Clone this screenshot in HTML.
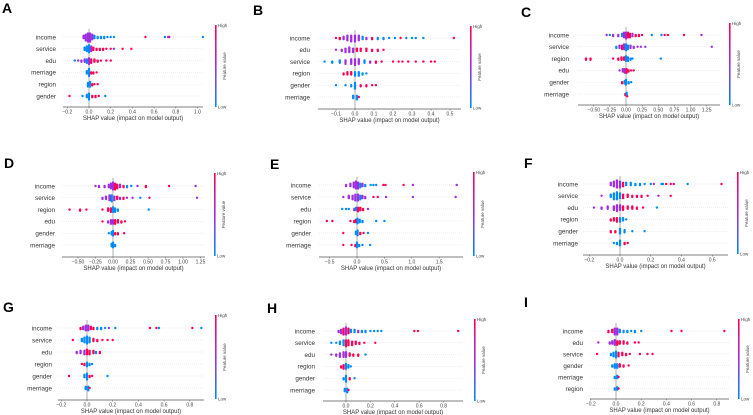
<!DOCTYPE html>
<html><head><meta charset="utf-8"><style>
html,body{margin:0;padding:0;background:#fff;}
svg{display:block;font-family:"Liberation Sans","DejaVu Sans",sans-serif;}
</style></head><body>
<svg id="fig" width="753" height="415" viewBox="0 0 753 415" xmlns="http://www.w3.org/2000/svg">
<defs>
<linearGradient id="cb" x1="0" y1="1" x2="0" y2="0">
<stop offset="0" stop-color="#008bfb"/><stop offset="0.5" stop-color="#a02ee0"/><stop offset="1" stop-color="#ff0052"/>
</linearGradient>
</defs>
</svg>
<script>
// ---- data (feature order, tick values, points as [shap, featureLevel(h/p/l), count]) ----
const featuresA=["income","service","edu","merriage","region","gender"];
const ticksA=[-0.2,0,0.2,0.4,0.6,0.8,1.0];
const pointsA=[
"-0.05 p 3|-0.03 p 6|-0.01 p 8|0.01 p 8|0.03 p 5|0.05 l 3|0.08 l 2|0.11 l 2|0.14 l 2|0.17 l 1|0.2 l 1|0.23 l 1|0.52 h 1|0.7 l 1|0.73 h 1|0.74 p 1|1.05 l 1",
"-0.04 l 3|-0.02 l 5|0 l 7|0.02 p 5|0.04 h 3|0.07 h 2|0.1 h 2|0.13 h 2|0.16 h 1|0.2 h 1|0.23 p 1|0.31 h 1|0.39 h 1",
"-0.13 l 1|-0.1 p 1|-0.07 p 2|-0.04 p 3|-0.02 l 4|0 p 6|0.02 h 4|0.05 h 3|0.08 h 2|0.11 h 1|0.16 h 1|0.2 h 1",
"-0.02 l 3|0 l 7|0.02 h 2|0.04 h 2|0.07 h 1",
"-0.01 l 4|0.01 l 5|0.03 h 2|0.05 h 1|0.08 h 1",
"-0.18 h 1|-0.06 l 1|-0.02 l 3|0 l 6|0.03 h 2|0.06 h 2|0.09 h 1|0.15 l 1"];
const featuresB=["income","edu","service","region","gender","merriage"];
const ticksB=[-0.1,0,0.1,0.2,0.3,0.4,0.5];
const pointsB=[
"-0.1 h 1|-0.08 h 2|-0.06 p 3|-0.04 p 5|-0.02 p 6|0 p 6|0.02 p 5|0.04 l 3|0.06 p 2|0.09 h 2|0.12 l 2|0.15 l 2|0.18 l 1|0.21 l 1|0.24 h 1|0.27 l 1|0.3 l 1|0.32 l 1|0.36 l 1|0.52 h 1",
"-0.1 p 1|-0.07 p 2|-0.05 p 4|-0.03 p 5|-0.01 p 4|0.01 h 3|0.03 h 3|0.06 h 3|0.09 h 2|0.12 h 2|0.15 h 1",
"-0.16 l 1|-0.12 l 2|-0.08 l 3|-0.05 p 4|-0.02 p 5|0 p 6|0.02 p 5|0.05 l 3|0.08 p 2|0.11 h 2|0.14 h 1|0.2 h 1|0.23 h 1|0.25 h 1|0.28 h 1|0.32 h 1|0.36 h 1|0.4 h 1|0.42 h 1",
"-0.06 h 2|-0.04 h 3|-0.02 h 3|0 l 4|0.02 l 4|0.04 l 2|0.06 l 1",
"-0.1 l 1|-0.05 l 1|-0.02 l 2|0 l 6|0.03 h 2|0.06 h 2|0.09 h 1|0.11 h 1",
"-0.01 l 3|0.01 l 4|0.02 h 1"];
const featuresC=["income","service","region","edu","gender","merriage"];
const ticksC=[-0.5,-0.25,0,0.25,0.5,0.75,1.0,1.25];
const pointsC=[
"-0.3 p 1|-0.25 l 1|-0.2 p 2|-0.12 p 2|-0.06 l 3|-0.03 p 5|0 p 6|0.03 h 5|0.06 h 4|0.1 p 3|0.15 h 2|0.2 h 2|0.25 h 1|0.4 l 1|0.55 l 1|0.6 h 1|0.65 h 1|0.9 h 1|1.17 p 1",
"-0.15 l 2|-0.1 p 3|-0.06 h 4|-0.03 p 5|0 l 6|0.03 l 4|0.07 p 3|0.12 p 2|0.18 p 1|0.23 p 1|0.3 p 1|1.33 p 1",
"-0.62 h 2|-0.55 h 2|-0.2 h 1|-0.12 h 2|-0.07 h 3|-0.03 h 3|0 l 5|0.03 l 4|0.07 l 2|0.1 l 1|0.54 l 1",
"-0.1 p 1|-0.05 p 3|-0.02 p 4|0.01 h 4|0.04 h 2|0.08 h 1|0.12 h 1",
"-0.06 h 2|-0.02 l 3|0 l 5|0.04 l 2|0.08 l 1",
"-0.01 h 2|0.01 l 3|0.02 h 1"];
const featuresD=["income","service","region","edu","gender","merriage"];
const ticksD=[-0.5,-0.25,0,0.25,0.5,0.75,1.0,1.25];
const pointsD=[
"-0.25 p 1|-0.2 p 2|-0.12 p 2|-0.06 p 3|-0.03 p 5|0 p 7|0.03 h 6|0.06 h 4|0.1 p 3|0.15 h 2|0.2 l 2|0.26 l 1|0.35 p 1|0.47 h 2|0.8 h 1|1.18 p 1",
"-0.15 p 2|-0.1 p 3|-0.05 p 5|-0.02 l 6|0.02 p 4|0.06 h 3|0.1 p 2|0.15 h 2|0.2 p 1|0.28 p 1|0.39 l 1|0.52 h 1|1.2 p 1",
"-0.62 h 1|-0.47 h 2|-0.38 h 1|-0.15 h 1|-0.07 h 3|-0.03 h 4|0 l 5|0.03 l 4|0.07 l 2|0.51 l 1",
"-0.15 h 1|-0.07 p 2|-0.03 p 4|0 p 4|0.03 h 4|0.07 h 3|0.12 h 2|0.17 h 1",
"-0.06 l 1|-0.02 l 3|0 l 5|0.03 h 2|0.07 h 2|0.16 h 1",
"-0.02 l 3|0 l 5|0.03 l 2"];
const featuresE=["income","service","edu","region","gender","merriage"];
const ticksE=[-0.5,0,0.5,1.0,1.5];
const pointsE=[
"-0.2 p 2|-0.12 p 3|-0.06 p 5|-0.02 p 7|0.02 p 6|0.06 l 4|0.1 p 3|0.15 l 2|0.25 l 1|0.3 l 1|0.35 l 1|0.48 h 1|0.52 h 1|0.85 h 1|1.02 p 1|1.82 p 1",
"-0.25 p 1|-0.15 p 3|-0.08 p 4|-0.03 p 6|0.02 p 6|0.06 l 4|0.1 p 3|0.15 p 2|0.3 h 1|0.38 h 1|0.53 p 1|1.02 p 1|1.8 p 1",
"-0.27 l 1|-0.2 l 1|-0.15 l 1|-0.05 p 2|-0.02 l 3|0.02 h 4|0.06 h 3|0.11 h 2|0.2 p 1",
"-0.55 h 1|-0.45 h 1|-0.12 h 1|-0.05 h 2|-0.02 h 3|0.01 l 5|0.05 l 3|0.1 l 2|0.35 l 1|0.5 l 1",
"-0.25 h 1|-0.02 l 3|0.01 l 5|0.06 h 2|0.12 h 1|0.2 l 1",
"-0.25 h 1|-0.1 h 1|-0.03 h 2|0 l 5|0.04 l 2|0.1 l 1|0.24 l 1"];
const featuresF=["income","service","edu","region","gender","merriage"];
const ticksF=[-0.2,0,0.2,0.4,0.6];
const pointsF=[
"-0.06 p 3|-0.04 p 5|-0.02 p 7|0 p 6|0.02 h 4|0.04 l 3|0.07 l 3|0.1 l 2|0.13 l 2|0.16 l 1|0.2 l 1|0.22 p 1|0.27 l 1|0.28 l 1|0.3 h 1|0.33 h 1|0.35 h 1|0.44 l 1|0.66 h 1",
"-0.12 p 1|-0.06 l 3|-0.04 l 6|-0.02 l 7|0 l 5|0.02 h 4|0.05 h 3|0.08 h 2|0.11 h 2|0.14 h 2|0.18 h 1|0.25 p 1|0.33 h 1",
"-0.17 p 1|-0.12 p 2|-0.08 p 3|-0.04 p 4|-0.02 p 6|0 p 5|0.02 h 4|0.05 h 3|0.08 h 3|0.11 h 2|0.15 h 1|0.24 l 1",
"-0.06 h 2|-0.04 h 3|-0.02 h 4|0 l 4|0.02 l 3|0.04 l 1",
"-0.06 h 2|-0.03 h 2|0 l 5|0.03 l 3|0.08 l 1|0.16 l 1",
"-0.04 l 1|-0.02 l 2|0 l 5|0.03 h 2|0.05 h 1"];
const featuresG=["income","service","edu","region","gender","merriage"];
const ticksG=[-0.2,0,0.2,0.4,0.6,0.8];
const pointsG=[
"-0.05 h 2|-0.03 p 3|-0.01 p 5|0.01 p 5|0.03 h 3|0.05 h 2|0.08 l 2|0.11 l 2|0.14 l 1|0.17 p 1|0.22 l 1|0.49 h 1|0.54 h 1|0.56 l 1|0.82 h 1|0.89 l 1",
"-0.11 h 1|-0.04 l 3|-0.02 l 5|0 l 7|0.02 l 5|0.05 h 3|0.08 h 2|0.12 h 1|0.16 h 1|0.2 h 1",
"-0.08 p 2|-0.05 p 3|-0.02 p 4|0 h 5|0.02 h 4|0.05 h 3|0.07 l 2|0.1 h 2",
"-0.04 h 1|-0.02 h 2|0 l 4|0.02 l 2|0.04 l 1",
"-0.14 h 1|-0.02 l 3|0 l 6|0.02 h 2|0.04 h 1|0.16 l 1",
"-0.01 l 3|0.01 l 4|0.02 h 1"];
const featuresH=["income","service","edu","region","gender","merriage"];
const ticksH=[0,0.2,0.4,0.6,0.8];
const pointsH=[
"-0.06 p 2|-0.04 p 4|-0.02 h 6|0 p 7|0.02 h 5|0.04 l 3|0.07 l 3|0.1 p 2|0.13 l 2|0.16 l 2|0.2 l 1|0.23 l 1|0.26 l 1|0.29 l 1|0.56 h 1|0.59 h 1|0.92 h 1",
"-0.12 l 1|-0.08 l 1|-0.05 l 3|-0.02 l 5|0 h 6|0.02 h 5|0.05 h 4|0.08 h 3|0.11 h 2|0.15 h 1|0.24 h 1",
"-0.12 p 1|-0.08 p 2|-0.05 p 4|-0.02 p 5|0 p 5|0.03 h 3|0.06 h 2|0.1 h 2|0.16 l 1",
"-0.04 h 2|-0.02 h 4|0 l 5|0.02 l 3|0.04 l 1",
"-0.02 l 2|0 l 6|0.03 h 2|0.07 l 1",
"-0.01 l 3|0.01 l 4|0.02 h 1"];
const featuresI=["income","edu","service","gender","merriage","region"];
const ticksI=[-0.2,0,0.2,0.4,0.6,0.8];
const pointsI=[
"-0.06 h 2|-0.03 h 3|-0.01 p 6|0.01 p 6|0.03 l 3|0.06 l 2|0.09 l 2|0.12 l 1|0.15 l 2|0.2 l 1|0.44 h 1|0.52 h 1|0.86 h 1",
"-0.14 p 1|-0.05 p 2|-0.03 p 3|-0.01 p 5|0.01 h 4|0.03 h 3|0.06 h 3|0.09 h 2|0.15 h 1|0.18 h 1",
"-0.15 h 1|-0.04 l 2|-0.02 l 4|0 l 6|0.02 h 4|0.05 h 3|0.08 h 2|0.11 h 1|0.19 h 1|0.25 h 1|0.29 h 1",
"-0.03 l 2|-0.01 l 4|0.01 l 4|0.03 h 3|0.06 h 2|0.1 h 1",
"-0.01 l 2|0.01 l 3|0.02 h 1",
"-0.01 l 2|0.01 l 3|0.02 h 1"];

// ---- layout (geometry only) ----
const panels=[
 {id:"A",f:featuresA,t:ticksA,p:pointsA,dec:1,lx:2,ly:13,zero:89,ppu:108.5,row0:37,dy:11.8,lab:56,ax0:63,ax1:203,axy:107,cbx:215,cb0:25,cb1:107},
 {id:"B",f:featuresB,t:ticksB,p:pointsB,dec:1,lx:253,ly:15,zero:355,ppu:190,row0:38,dy:11.8,lab:310,ax0:318,ax1:461,axy:109,cbx:470,cb0:26,cb1:108},
 {id:"C",f:featuresC,t:ticksC,p:pointsC,dec:2,lx:521,ly:17,zero:626,ppu:64.5,row0:35,dy:11.8,lab:569,ax0:578,ax1:720,axy:105,cbx:729,cb0:23,cb1:105},
 {id:"D",f:featuresD,t:ticksD,p:pointsD,dec:2,lx:4,ly:168,zero:113,ppu:70,row0:186,dy:11.8,lab:55,ax0:62,ax1:205,axy:257,cbx:214,cb0:173,cb1:256},
 {id:"E",f:featuresE,t:ticksE,p:pointsE,dec:1,lx:270,ly:169,zero:357,ppu:54.8,row0:185,dy:12,lab:311,ax0:319,ax1:463,axy:257,cbx:473,cb0:172,cb1:256},
 {id:"F",f:featuresF,t:ticksF,p:pointsF,dec:1,lx:524,ly:168,zero:620,ppu:153.75,row0:184,dy:11.8,lab:578,ax0:583,ax1:728,axy:255,cbx:737,cb0:172,cb1:254},
 {id:"G",f:featuresG,t:ticksG,p:pointsG,dec:1,lx:3,ly:312,zero:87,ppu:128.5,row0:328,dy:12,lab:52,ax0:58,ax1:204,axy:400,cbx:215,cb0:315,cb1:399},
 {id:"H",f:featuresH,t:ticksH,p:pointsH,dec:1,lx:267,ly:313,zero:346,ppu:122,row0:331,dy:11.8,lab:315,ax0:323,ax1:463,axy:401,cbx:474,cb0:319,cb1:401},
 {id:"I",f:featuresI,t:ticksI,p:pointsI,dec:1,lx:524,ly:307,zero:616,ppu:126,row0:331,dy:11.5,lab:583,ax0:590,ax1:729,axy:399,cbx:738,cb0:319,cb1:399}
];
const NS="http://www.w3.org/2000/svg";
const svg=document.getElementById("fig");
function mk(tag,attrs,parent){const e=document.createElementNS(NS,tag);for(const k in attrs)e.setAttribute(k,attrs[k]);(parent||svg).appendChild(e);return e;}
function col(v){const s=[[0,139,251],[160,46,224],[255,0,82]];let a,b,t;if(v<=0.5){a=s[0];b=s[1];t=v/0.5;}else{a=s[1];b=s[2];t=(v-0.5)/0.5;}return "rgb("+[0,1,2].map(i=>Math.round(a[i]+(b[i]-a[i])*t)).join(",")+")";}
const lvl={h:1,p:0.5,l:0};
panels.forEach(P=>{
 const g=mk("g",{});
 
 
 const X=v=>P.zero+v*P.ppu;
 const letter=mk("text",{x:P.lx,y:P.ly,"font-size":"14","font-weight":"bold",fill:"#000"},g);
 letter.textContent=P.id;
 
 
 const top=P.row0-8;
 // row grid lines and labels
 P.f.forEach((name,i)=>{
  const y=P.row0+i*P.dy;
  const gl=mk("line",{x1:P.ax0,x2:P.ax1,y1:y,y2:y,stroke:"#ddd","stroke-width":"0.5","stroke-dasharray":"1,1"},g);
  
  
  const tl=mk("text",{x:P.lab,y:y+2.3,"font-size":"6.3","text-anchor":"end",fill:"#333"},g);
  tl.textContent=name;
  
  
 });
 const zl=mk("line",{x1:X(0),x2:X(0),y1:top,y2:P.axy,stroke:"#999","stroke-width":"0.8"},g);
 
 
 // points
 P.p.forEach((row,i)=>{
  const y=P.row0+i*P.dy;
  const bins={};
  row.split("|").forEach(item=>{
   const [v,c,n]=item.trim().split(" ");
   const cx=X(parseFloat(v));
   const b=Math.round(cx/1.4);
   for(let k=0;k<parseInt(n);k++){
    bins[b]=(bins[b]||0)+1;
    const m=bins[b]-1;
    const off=(m%2?1:-1)*Math.ceil(m/2)*1.15;
    const d=mk("circle",{cx:cx.toFixed(2),cy:(y+off).toFixed(2),r:"1.2",fill:col(lvl[c])},g);
    
    
   }
  });
 });
 // x axis
 const ax=mk("line",{x1:P.ax0,x2:P.ax1,y1:P.axy,y2:P.axy,stroke:"#555","stroke-width":"0.7"},g);
 
 
 P.t.forEach(v=>{
  const tk=mk("line",{x1:X(v),x2:X(v),y1:P.axy,y2:P.axy+1.5,stroke:"#555","stroke-width":"0.5"},g);
  
  
  const tt=mk("text",{x:X(v),y:P.axy+6.5,"font-size":"5","text-anchor":"middle",fill:"#444"},g);
  tt.textContent=(v<0?"\u2212":"")+Math.abs(v).toFixed(P.dec);
  
  
 });
 const xt=mk("text",{x:(P.ax0+P.ax1)/2,y:P.axy+13,"font-size":"6","text-anchor":"middle",fill:"#333"},g);
 xt.textContent="SHAP value (impact on model output)";
 
 
 // colorbar
 const cb=mk("rect",{x:P.cbx,y:P.cb0,width:"1.6",height:P.cb1-P.cb0,fill:"url(#cb)"},g);
 
 
 const hi=mk("text",{x:P.cbx+3,y:P.cb0+2,"font-size":"4.5",fill:"#444"},g);
 hi.textContent="High";
 
 
 const lo=mk("text",{x:P.cbx+3,y:P.cb1+1.5,"font-size":"4.5",fill:"#444"},g);
 lo.textContent="Low";
 
 
 const cy=(P.cb0+P.cb1)/2;
 const fv=mk("text",{x:P.cbx+11,y:cy,"font-size":"4.5","text-anchor":"middle",fill:"#444",transform:"rotate(-90 "+(P.cbx+11)+" "+cy+")"},g);
 fv.textContent="Feature value";
 
 
});
</script>
</body></html>
